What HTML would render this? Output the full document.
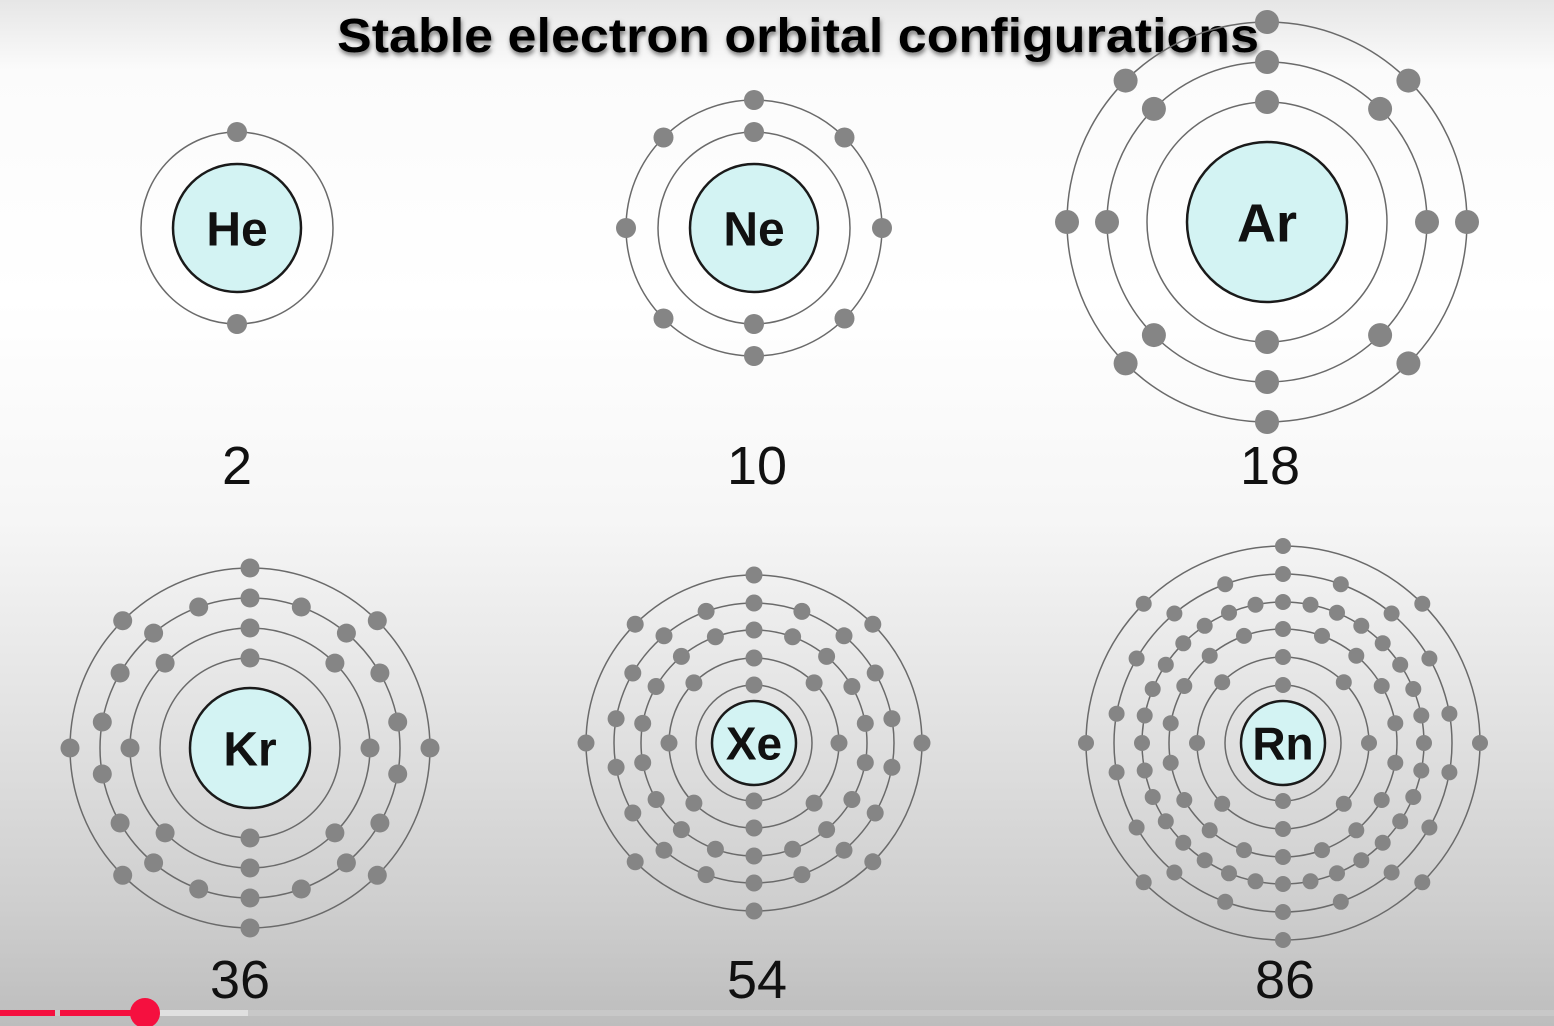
<!DOCTYPE html>
<html><head><meta charset="utf-8"><style>
html,body{margin:0;padding:0;width:1554px;height:1026px;overflow:hidden}
body{background:linear-gradient(to bottom,#e6e6e6 0px,#fbfbfb 70px,#ffffff 300px,#f6f6f6 520px,#e4e4e4 700px,#cfcfcf 900px,#bdbdbd 1026px)}
svg{position:absolute;left:0;top:0}
text{font-family:"Liberation Sans",sans-serif;font-weight:bold;fill:#111}
</style></head><body>
<svg id="s" width="1554" height="1026" xmlns="http://www.w3.org/2000/svg">
<defs><filter id="sh" x="-5%" y="-30%" width="110%" height="160%"><feDropShadow dx="1" dy="3" stdDeviation="2.5" flood-color="#555" flood-opacity="0.8"/></filter></defs>
<text x="798" y="52" text-anchor="middle" font-size="48" textLength="922" lengthAdjust="spacingAndGlyphs" filter="url(#sh)" style="fill:#000">Stable electron orbital configurations</text>
<g id="g"></g>
<text x="237" y="484" text-anchor="middle" font-size="54" style="font-weight:normal">2</text>
<text x="757" y="484" text-anchor="middle" font-size="54" style="font-weight:normal">10</text>
<text x="1270" y="484" text-anchor="middle" font-size="54" style="font-weight:normal">18</text>
<text x="240" y="998" text-anchor="middle" font-size="54" style="font-weight:normal">36</text>
<text x="757" y="998" text-anchor="middle" font-size="54" style="font-weight:normal">54</text>
<text x="1285" y="998" text-anchor="middle" font-size="54" style="font-weight:normal">86</text>
<rect x="0" y="1010" width="1554" height="6" fill="#c8c8c8"/>
<rect x="145" y="1010" width="103" height="6" fill="#e0e0e0"/>
<rect x="0" y="1010" width="55" height="6" fill="#f5103f"/>
<rect x="60" y="1010" width="85" height="6" fill="#f5103f"/>
<circle cx="145" cy="1013" r="15" fill="#f5103f"/>
</svg>
<script>
var atoms=[
{x:237,y:228,n:64,sym:"He",fs:48,shells:[[96,2]],dr:10},
{x:754,y:228,n:64,sym:"Ne",fs:48,shells:[[96,2],[128,8]],dr:10},
{x:1267,y:222,n:80,sym:"Ar",fs:54,shells:[[120,2],[160,8],[200,8]],dr:12},
{x:250,y:748,n:60,sym:"Kr",fs:48,shells:[[90,2],[120,8],[150,18],[180,8]],dr:9.5},
{x:754,y:743,n:42,sym:"Xe",fs:46,shells:[[58,2],[85,8],[113,18],[140,18],[168,8]],dr:8.5},
{x:1283,y:743,n:42,sym:"Rn",fs:46,shells:[[58,2],[86,8],[114,18],[141,32],[169,18],[197,8]],dr:8}
];
var h="";
atoms.forEach(function(a){
 a.shells.forEach(function(s){h+='<circle cx="'+a.x+'" cy="'+a.y+'" r="'+s[0]+'" fill="none" stroke="#6a6a6a" stroke-width="1.5"/>';});
 a.shells.forEach(function(s){for(var i=0;i<s[1];i++){var t=2*Math.PI*i/s[1];
  h+='<circle cx="'+(a.x+s[0]*Math.sin(t)).toFixed(1)+'" cy="'+(a.y-s[0]*Math.cos(t)).toFixed(1)+'" r="'+a.dr+'" fill="#858585"/>';}});
 h+='<circle cx="'+a.x+'" cy="'+a.y+'" r="'+a.n+'" fill="#d3f3f3" stroke="#1a1a1a" stroke-width="2.5"/>';
 h+='<text x="'+a.x+'" y="'+(a.y+a.fs*0.36)+'" text-anchor="middle" font-size="'+a.fs+'">'+a.sym+'</text>';
});
document.getElementById("g").innerHTML=h;
</script>
</body></html>
